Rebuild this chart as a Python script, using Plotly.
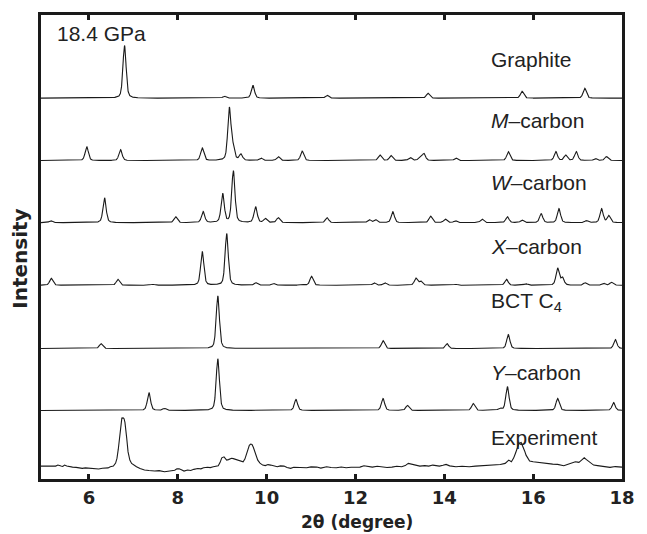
import numpy as np
import plotly.graph_objects as go

# ---------------- data ----------------
x_min, x_max = 4.92, 18.0
tick_vals = [6, 8, 10, 12, 14, 16, 18]
tick_text = ["6", "8", "10", "12", "14", "16", "18"]

# simulated patterns: peak positions (2theta) and peak heights (arb. units)
graphite_pos = [6.80, 9.05, 9.69, 11.36, 13.63, 15.75, 17.16]
graphite_int = [53, 2, 13, 3, 5, 7, 10]

mcarbon_pos = [5.95, 6.71, 8.55, 9.16, 9.24, 9.42, 9.87, 10.26, 10.80, 12.55, 12.80,
               13.23, 13.45, 13.54, 14.26, 15.44, 16.51, 16.73, 16.97, 17.40, 17.65]
mcarbon_int = [14, 11, 12.5, 52, 12, 6, 2.5, 4, 9.5, 5.5, 5, 3, 3, 7, 2.5, 9, 9, 5.5, 9, 2, 4]

wcarbon_pos = [5.14, 6.35, 7.95, 8.57, 9.01, 9.25, 9.75, 9.97, 10.26, 11.36, 12.31, 12.45,
               12.84, 13.69, 14.02, 14.25, 14.85, 15.42, 15.75, 16.18, 16.58, 17.20, 17.54, 17.70]
wcarbon_int = [2, 25, 6, 11, 29, 52, 16, 4, 5, 5, 3, 3, 11, 6.5, 3.5, 2, 3.5, 6, 2.5, 9, 14, 2, 14, 7]

xcarbon_pos = [5.15, 6.65, 7.44, 8.55, 9.10, 9.76, 10.15, 10.78, 11.01, 12.42, 12.66, 13.36,
               13.47, 14.26, 15.40, 15.84, 16.55, 16.66, 17.17, 17.58, 17.76]
xcarbon_int = [7, 6, 1, 34, 52, 2.5, 2, 1, 9, 2.5, 2.5, 7, 4, 1, 6, 1.5, 17, 7.5, 2.5, 2, 3]

bct_pos = [6.27, 8.90, 12.62, 14.06, 15.44, 17.85]
bct_int = [5, 53, 8, 5, 14, 9]

ycarbon_pos = [7.35, 7.70, 8.90, 10.66, 12.62, 13.17, 14.65, 15.25, 15.42, 16.55, 17.81]
ycarbon_int = [18, 2, 52, 11, 12, 5, 7, 2, 24, 12, 8]

# experimental pattern (2theta, intensity) read point by point
exp_2theta = [4.92, 5.00, 5.08, 5.19, 5.25, 5.30, 5.34, 5.37, 5.41, 5.45, 5.50, 5.56, 5.63, 5.71,
              5.78, 5.85, 5.92, 6.00, 6.10, 6.22, 6.30, 6.37, 6.43, 6.48, 6.55, 6.60, 6.63, 6.66,
              6.69, 6.72, 6.74, 6.77, 6.79, 6.81, 6.83, 6.85, 6.88, 6.92, 6.96, 7.02, 7.07, 7.15,
              7.25, 7.35, 7.48, 7.58, 7.70, 7.78, 7.84, 7.93, 7.98, 8.03, 8.08, 8.14, 8.22, 8.29,
              8.36, 8.45, 8.52, 8.58, 8.67, 8.73, 8.80, 8.86, 8.91, 8.95, 8.99, 9.04, 9.07, 9.10,
              9.14, 9.17, 9.21, 9.25, 9.30, 9.36, 9.42, 9.47, 9.51, 9.54, 9.58, 9.61, 9.64, 9.67,
              9.70, 9.72, 9.76, 9.80, 9.85, 9.91, 9.97, 10.03, 10.09, 10.16, 10.24, 10.31, 10.39,
              10.46, 10.54, 10.61, 10.68, 10.78, 10.90, 11.00, 11.13, 11.22, 11.35, 11.45, 11.57,
              11.68, 11.79, 11.90, 12.01, 12.10, 12.19, 12.28, 12.38, 12.49, 12.60, 12.71, 12.82,
              12.93, 13.04, 13.12, 13.19, 13.26, 13.34, 13.45, 13.56, 13.65, 13.74, 13.82, 13.89,
              13.97, 14.04, 14.12, 14.26, 14.40, 14.56, 14.70, 14.85, 15.00, 15.14, 15.26, 15.37,
              15.45, 15.51, 15.56, 15.60, 15.64, 15.68, 15.73, 15.78, 15.81, 15.84, 15.88, 15.92,
              16.00, 16.10, 16.20, 16.33, 16.44, 16.55, 16.62, 16.69, 16.77, 16.84, 16.90, 16.95,
              17.00, 17.03, 17.09, 17.15, 17.20, 17.25, 17.30, 17.36, 17.45, 17.54, 17.63, 17.73,
              17.85, 17.96, 18.00]
exp_intensity = [3.0, 3.0, 2.6, 2.3, 3.0, 4.0, 3.0, 3.0, 2.6, 4.0, 3.0, 2.3, 2.0, 1.7,
                 1.0, 0.7, 1.2, 0.7, 0.2, 0.0, 0.8, 0.7, 1.2, 2.3, 3.0, 6.0, 10.7, 20.0,
                 31.0, 45.0, 51.3, 51.5, 50.7, 47.0, 41.0, 31.0, 17.3, 9.0, 5.7, 3.5, 2.3, 0.5,
                 -1.0, -1.5, -2.0, -1.6, -2.7, -2.2, -2.0, -1.2, 0.3, 0.2, -0.8, -2.0, -1.0, -1.5,
                 -0.3, 0.5, 0.2, 1.3, 1.8, 1.5, 2.3, 2.8, 3.3, 6.5, 11.3, 12.3, 10.5, 9.0,
                 9.5, 10.0, 10.8, 10.5, 9.6, 9.0, 8.2, 7.3, 10.0, 14.0, 19.5, 24.0, 25.2, 24.7,
                 22.0, 19.0, 14.0, 9.0, 6.0, 4.0, 3.5, 4.5, 4.0, 3.0, 2.3, 3.2, 3.0,
                 1.5, 0.7, 1.8, 1.7, 0.8, 1.3, 2.2, 2.0, 1.0, 2.3, 1.6, 1.3,
                 2.0, 1.3, 1.8, 2.3, 2.0, 3.3, 2.5, 2.0, 2.8, 2.3, 1.6, 2.0,
                 2.8, 2.3, 3.5, 5.7, 4.8, 4.0, 3.0, 3.5, 3.0, 4.0, 3.6, 3.0,
                 3.8, 4.7, 3.2, 2.3, 2.8, 2.3, 3.0, 3.3, 3.6, 4.0, 4.6, 5.7,
                 9.0, 7.3, 11.0, 15.7, 21.0, 25.7, 26.7, 22.3, 18.0, 14.0, 10.5, 8.0,
                 7.3, 6.7, 6.0, 5.7, 5.0, 4.7, 4.0, 3.3, 4.5, 5.7, 6.5, 7.3,
                 7.0, 6.7, 9.0, 11.3, 9.5, 8.0, 6.0, 4.0, 3.5, 3.0, 2.2, 1.7,
                 2.5, 2.3, 2.0]

labels = ["Graphite", "<i>M</i>–carbon", "<i>W</i>–carbon", "<i>X</i>–carbon",
          "BCT C<sub>4</sub>", "<i>Y</i>–carbon", "Experiment"]
offsets = [383.3, 320.5, 258.0, 195.0, 131.3, 69.0, 10.0]
label_y = [422, 361, 298, 234, 178, 107, 42]
pressure_label = "18.4 GPa"

# ---------------- build figure ----------------
grid = np.arange(x_min, x_max + 1e-9, 0.004)


def profile(pos, ints, fwhm=0.085, eta=0.4):
    y = np.zeros_like(grid)
    s = fwhm / 2.3548
    g = fwhm / 2
    for p, h in zip(pos, ints):
        y += h * ((1 - eta) * np.exp(-0.5 * ((grid - p) / s) ** 2)
                  + eta / (1 + ((grid - p) / g) ** 2))
    return y


sims = [(graphite_pos, graphite_int), (mcarbon_pos, mcarbon_int), (wcarbon_pos, wcarbon_int),
        (xcarbon_pos, xcarbon_int), (bct_pos, bct_int), (ycarbon_pos, ycarbon_int)]

fig = go.Figure()
for (pos, ints), off in zip(sims, offsets[:6]):
    fig.add_trace(go.Scatter(x=grid, y=profile(pos, ints) + off, mode="lines",
                             line=dict(color="#1a1a1a", width=1.1), showlegend=False,
                             hoverinfo="skip"))
fig.add_trace(go.Scatter(x=exp_2theta, y=np.array(exp_intensity) + offsets[6], mode="lines",
                         line=dict(color="#1a1a1a", width=1.1), showlegend=False,
                         hoverinfo="skip"))

label_font = dict(family="Liberation Sans, Arial, sans-serif", size=21, color="#222")
for lab, ly in zip(labels, label_y):
    fig.add_annotation(x=15.0, y=ly, xref="x", yref="y", text=lab, showarrow=False,
                       xanchor="left", yanchor="middle", font=label_font)
fig.add_annotation(x=5.23, y=448, xref="x", yref="y", text=pressure_label, showarrow=False,
                   xanchor="left", yanchor="middle", font=label_font)

# axis titles
fig.add_annotation(x=(362 - 41) / 591, y=(479 - 522) / 467, xref="paper", yref="paper",
                   text="<b>2θ (degree)</b>", showarrow=False, xanchor="center",
                   yanchor="middle",
                   font=dict(family="DejaVu Sans, sans-serif", size=17, color="#222"))
fig.add_annotation(x=(20 - 41) / 591, y=(479 - 257) / 467, xref="paper", yref="paper",
                   text="<b>Intensity</b>", showarrow=False, textangle=-90,
                   xanchor="center", yanchor="middle",
                   font=dict(family="DejaVu Sans, sans-serif", size=20, color="#222"))

fig.update_layout(
    width=647, height=534,
    margin=dict(l=41, r=15, t=12, b=55),
    paper_bgcolor="white", plot_bgcolor="white",
    showlegend=False,
)
fig.update_xaxes(range=[x_min, x_max], tickvals=tick_vals, ticktext=tick_text,
                 ticks="inside", ticklen=5, tickwidth=3, tickcolor="#1a1a1a",
                 showline=True, linewidth=3, linecolor="#1a1a1a", mirror="ticks",
                 showgrid=False, zeroline=False, ticklabelstandoff=0,
                 tickfont=dict(family="DejaVu Sans, sans-serif", size=18, color="#222",
                               weight="bold"))
fig.update_yaxes(range=[0, 467], showticklabels=False, ticks="",
                 showline=True, linewidth=3, linecolor="#1a1a1a", mirror=True,
                 showgrid=False, zeroline=False)

fig.write_html("out.html", config={"displayModeBar": False},
               post_script="document.body.style.margin='0';document.body.style.overflow='hidden';")
